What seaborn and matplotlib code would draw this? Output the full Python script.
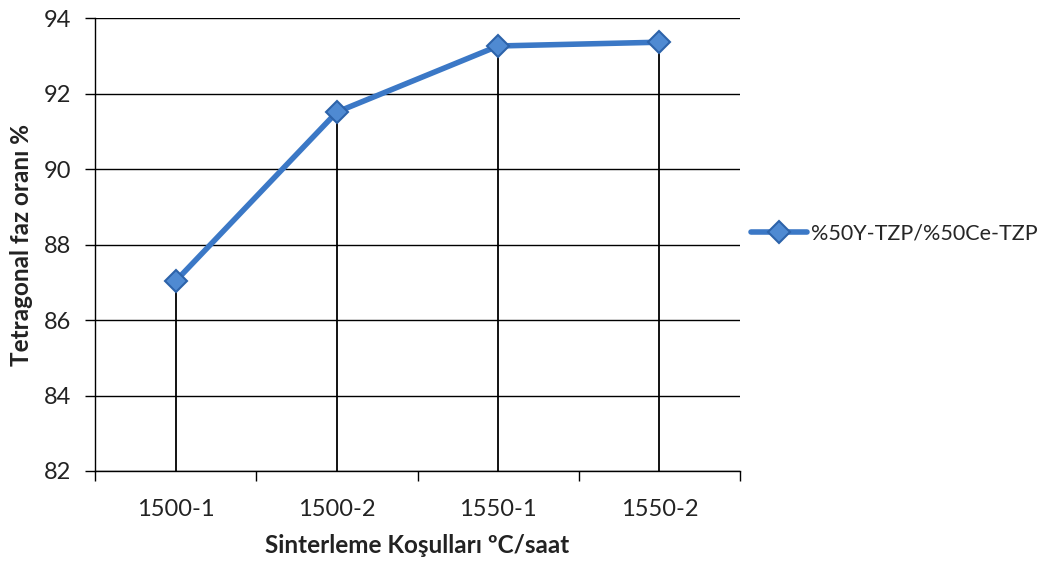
import matplotlib
matplotlib.use("Agg")
import matplotlib.pyplot as plt
import seaborn as sns
import pandas as pd

# Sintering conditions (temperature °C - hold time h) and tetragonal phase ratio
conditions = ["1500-1", "1500-2", "1550-1", "1550-2"]
tetragonal = [87.03, 91.51, 93.26, 93.36]
series_name = "%50Y-TZP/%50Ce-TZP"
y_ticks = [82, 84, 86, 88, 90, 92, 94]

df = pd.DataFrame({"cond": conditions, "val": tetragonal, "series": series_name})

sns.set_theme(style="white")
plt.rcParams["font.family"] = ["Lato", "DejaVu Sans"]

fig = plt.figure(figsize=(10.46, 5.64), dpi=100)
ax = fig.add_axes([0.0908, 0.1649, 0.6167, 0.8031])

pos = list(range(len(conditions)))

# horizontal gridlines
for yv in y_ticks:
    ax.axhline(yv, color="black", lw=1.0, zorder=0)

# drop lines from each point down to the axis
ax.vlines(pos, ymin=y_ticks[0], ymax=tetragonal, colors="black", lw=1.3, zorder=1)

sns.lineplot(data=df, x="cond", y="val", hue="series", sort=False, ax=ax,
             palette=["#3B78C6"], lw=4, marker="D", markersize=11,
             markerfacecolor="#4F8AD2", markeredgecolor="#2D63AA",
             markeredgewidth=1.5, zorder=3)

ax.set_xlim(-0.5, len(conditions) - 0.5)
ax.set_ylim(y_ticks[0], y_ticks[-1])
ax.set_yticks(y_ticks)
ax.set_xticks(pos)
ax.set_xticklabels(conditions)
ax.set_xticks([p - 0.5 for p in pos] + [pos[-1] + 0.5], minor=True)
ax.tick_params(axis="x", which="major", length=0, pad=20, labelsize=17, colors="#222222")
ax.tick_params(axis="x", which="minor", length=7, width=1, color="black", direction="out", bottom=True)
ax.tick_params(axis="y", length=7, width=1, color="black", direction="out", left=True,
               labelsize=17, pad=10, labelcolor="#222222")

for s in ["top", "right"]:
    ax.spines[s].set_visible(False)
for s in ["left", "bottom"]:
    ax.spines[s].set_color("black")
    ax.spines[s].set_linewidth(1.0)

ax.set_xlabel("Sinterleme Koşulları ºC/saat", fontsize=17.5, fontweight="bold",
              color="#222222", labelpad=10)
ax.set_ylabel("Tetragonal faz oranı %", fontsize=17.5, fontweight="bold",
              color="#222222", labelpad=8)

leg = ax.legend(loc="center left", bbox_to_anchor=(1.0, 0.525), frameon=False,
                fontsize=15.5, handlelength=2.6, handletextpad=0.2, borderaxespad=0.1)

fig.savefig("out.png", dpi=100, facecolor="white")
